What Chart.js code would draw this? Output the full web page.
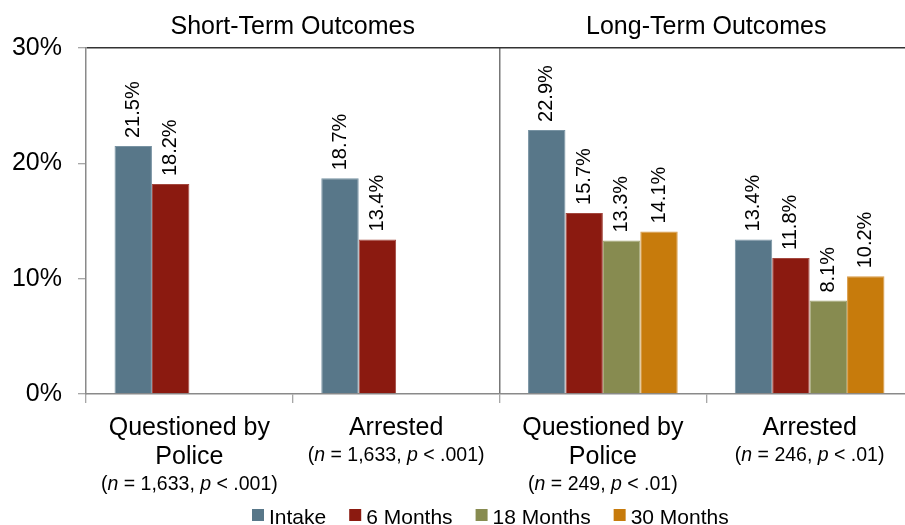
<!DOCTYPE html>
<html>
<head>
<meta charset="utf-8">
<script src="https://cdn.jsdelivr.net/npm/chart.js@4.4.1/dist/chart.umd.min.js"></script>
<style>
  html, body { margin: 0; padding: 0; overflow: hidden; background: #fff; width: 905px; height: 525px; }
  canvas { display: block; }
</style>
</head>
<body>
<canvas id="chart" width="920" height="525"></canvas>
<script>
// Outcome categories and their annotation text
const categories = ['Questioned by Police', 'Arrested', 'Questioned by Police', 'Arrested'];
const categoryLines = [['Questioned by', 'Police'], ['Arrested'], ['Questioned by', 'Police'], ['Arrested']];
const sampleSizes = ['1,633', '1,633', '249', '246'];
const pValues = ['.001', '.001', '.01', '.01'];
const panelTitles = ['Short-Term Outcomes', 'Long-Term Outcomes'];

// Series (percent of youth)
const seriesNames = ['Intake', '6 Months', '18 Months', '30 Months'];
const intake = [21.5, 18.7, 22.9, 13.4];
const sixMonths = [18.2, 13.4, 15.7, 11.8];
const eighteenMonths = [null, null, 13.3, 8.1];
const thirtyMonths = [null, null, 14.1, 10.2];

// Y axis tick values (percent)
const yTicks = [0, 10, 20, 30];

const FONT = '"Liberation Sans", Arial, Helvetica, sans-serif';
const fills = ['#587789', '#8b1a10', '#878b50', '#c77b0c'];
const edges = ['#7893a3', '#a3473e', '#a2a572', '#d89a45'];

// Value labels, panel titles, two-line category labels and the legend
const annotate = {
  id: 'annotate',
  afterDatasetsDraw(chart) {
    const ctx = chart.ctx;
    ctx.save();
    ctx.fillStyle = '#000';
    ctx.font = '20px ' + FONT;
    ctx.textAlign = 'left';
    ctx.textBaseline = 'middle';
    chart.data.datasets.forEach((ds, di) => {
      chart.getDatasetMeta(di).data.forEach((bar, i) => {
        const v = ds.data[i];
        if (v === null || v === undefined) return;
        ctx.save();
        ctx.translate(bar.x, bar.y - 8);
        ctx.rotate(-Math.PI / 2);
        ctx.fillText(v.toFixed(1) + '%', 0, 0);
        ctx.restore();
      });
    });
    ctx.restore();
  },
  afterDraw(chart) {
    const ctx = chart.ctx;
    const xs = chart.scales.x;
    const area = chart.chartArea;
    ctx.save();
    ctx.fillStyle = '#000';
    ctx.textBaseline = 'alphabetic';

    // Panel titles centred over each pair of categories
    ctx.font = '25px ' + FONT;
    ctx.textAlign = 'center';
    panelTitles.forEach((t, k) => {
      const cx = (xs.getPixelForValue(2 * k) + xs.getPixelForValue(2 * k + 1)) / 2;
      ctx.fillText(t, cx, 34);
    });

    // Category labels with sample note
    categories.forEach((c, i) => {
      const cx = xs.getPixelForValue(i);
      let y = area.bottom + 41;
      ctx.font = '25px ' + FONT;
      ctx.textAlign = 'center';
      categoryLines[i].forEach((line, k) => {
        if (k > 0) y += 28.6;
        ctx.fillText(line, cx, y);
      });
      y += 26;
      const normal = '19.5px ' + FONT;
      const italic = 'italic 19.5px ' + FONT;
      const parts = [
        ['(', normal], ['n', italic], [' = ' + sampleSizes[i] + ', ', normal],
        ['p', italic], [' < ' + pValues[i] + ')', normal]
      ];
      let total = 0;
      parts.forEach(p => { ctx.font = p[1]; total += ctx.measureText(p[0]).width; });
      let x = cx - total / 2;
      ctx.textAlign = 'left';
      parts.forEach(p => {
        ctx.font = p[1];
        ctx.fillText(p[0], x, y);
        x += ctx.measureText(p[0]).width;
      });
    });

    // Legend
    ctx.font = '21px ' + FONT;
    ctx.textAlign = 'left';
    let lx = 252;
    chart.data.datasets.forEach((ds, di) => {
      ctx.fillStyle = fills[di];
      ctx.fillRect(lx, 509, 12, 12);
      ctx.fillStyle = '#000';
      ctx.fillText(ds.label, lx + 17, 524);
      lx += 17 + ctx.measureText(ds.label).width + 23;
    });
    ctx.restore();
  }
};

const datasets = [intake, sixMonths, eighteenMonths, thirtyMonths].map((d, i) => ({
  label: seriesNames[i],
  data: d,
  backgroundColor: fills[i],
  borderColor: edges[i],
  borderWidth: 1
}));

new Chart(document.getElementById('chart'), {
  type: 'bar',
  data: { labels: categories, datasets },
  options: {
    responsive: false,
    animation: false,
    events: [],
    categoryPercentage: 0.724,
    barPercentage: 1.0,
    layout: { padding: { top: 48, right: 7, bottom: 0, left: 0 } },
    plugins: { legend: { display: false }, tooltip: { enabled: false } },
    scales: {
      x: {
        grid: {
          offset: true,
          color: c => (c.index === 2 ? '#777' : 'rgba(0,0,0,0)'),
          lineWidth: 1.5,
          tickColor: '#8a8a8a',
          tickWidth: 1,
          tickLength: 9
        },
        border: { color: '#8a8a8a', width: 1.5 },
        ticks: { display: false },
        afterFit: s => { s.height = 131; }
      },
      y: {
        min: 0,
        max: 30,
        afterBuildTicks: s => { s.ticks = yTicks.map(v => ({ value: v })); },
        ticks: {
          callback: v => v + '%',
          font: { size: 25, family: FONT },
          color: '#000',
          padding: 16
        },
        grid: {
          color: c => (c.tick && c.tick.value === 30 ? '#333' : 'rgba(0,0,0,0)'),
          lineWidth: 1.5,
          tickColor: '#8a8a8a',
          tickWidth: 1,
          tickLength: 8
        },
        border: { color: '#8a8a8a', width: 1.5 },
        afterFit: s => { s.width = 86; }
      }
    }
  },
  plugins: [annotate]
});
</script>
</body>
</html>
